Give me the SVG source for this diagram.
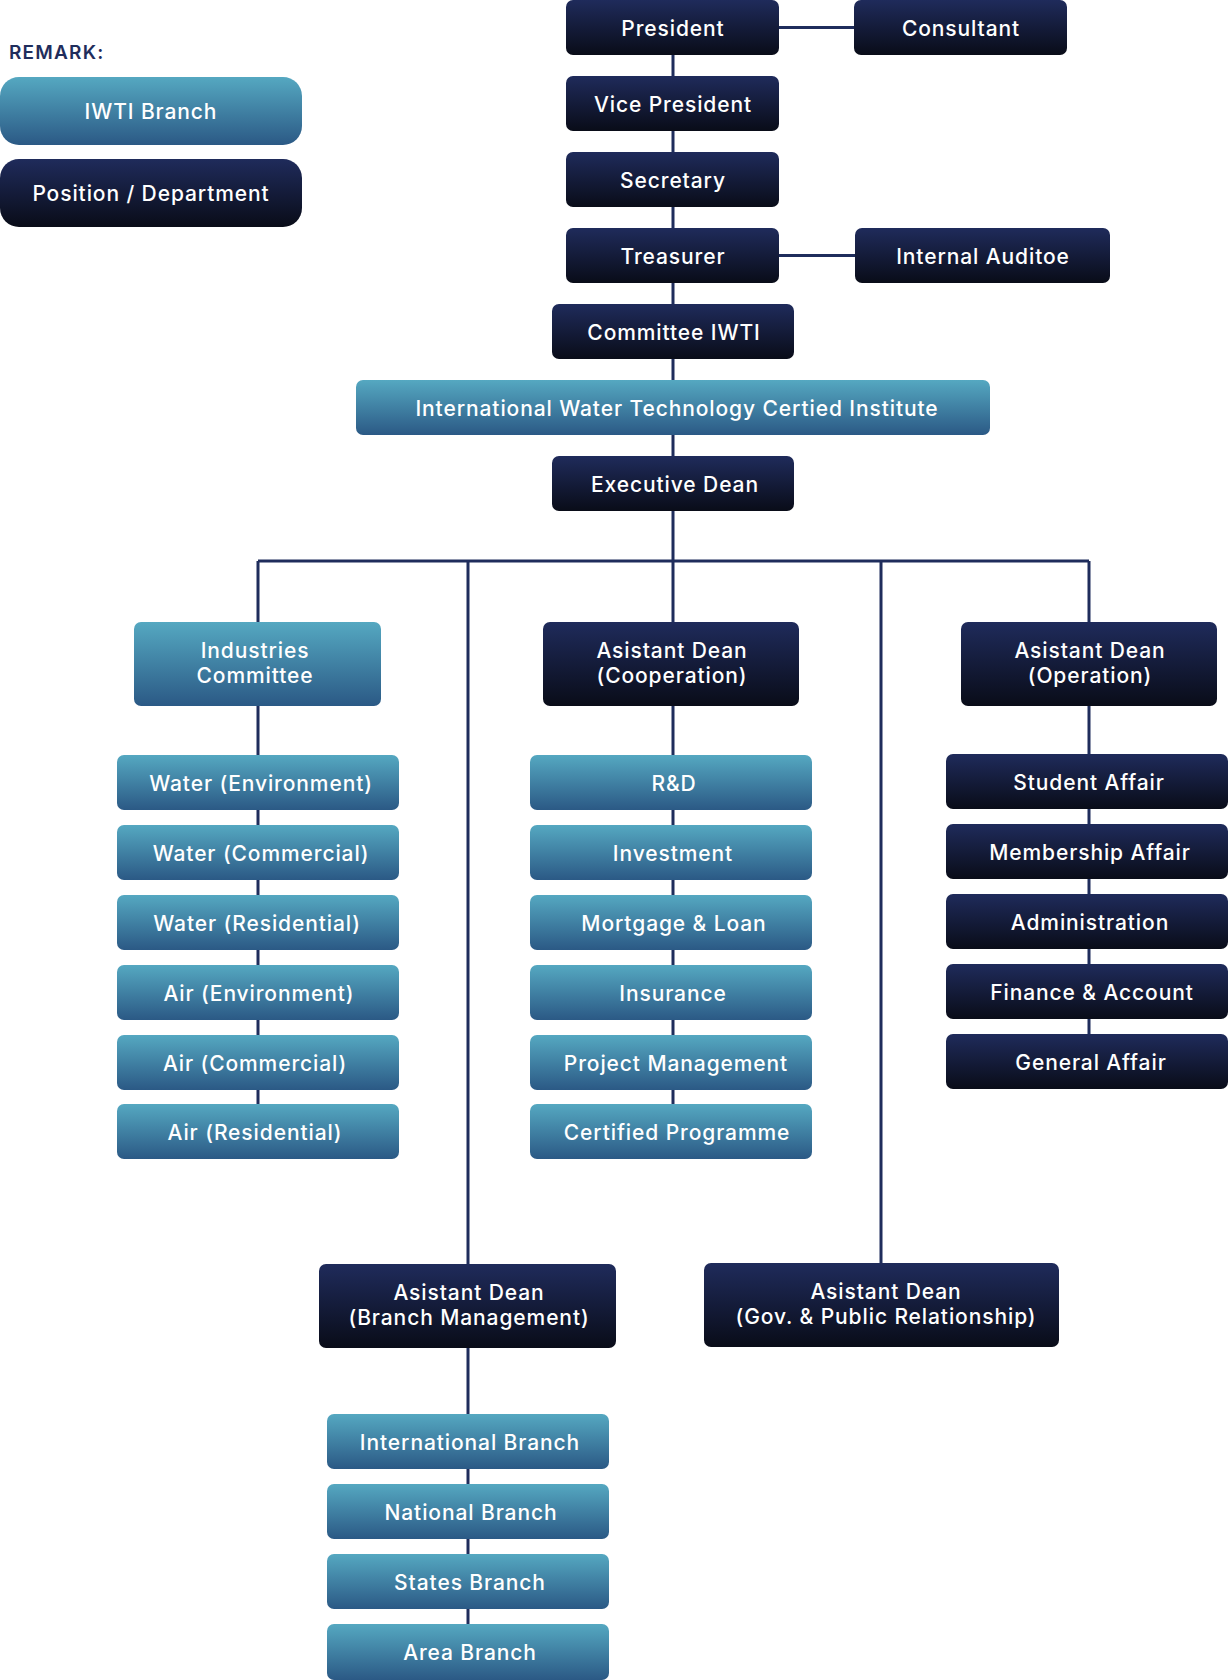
<svg xmlns="http://www.w3.org/2000/svg" width="1230" height="1680" viewBox="0 0 1230 1680">
<defs>
<linearGradient id="gDark" x1="0" y1="0" x2="0" y2="1">
<stop offset="0" stop-color="#1f2b5b"/>
<stop offset="1" stop-color="#090c18"/>
</linearGradient>
<linearGradient id="gTeal" x1="0" y1="0" x2="0" y2="1">
<stop offset="0" stop-color="#55a8c1"/>
<stop offset="1" stop-color="#2b5985"/>
</linearGradient>
<style>
.dk{fill:url(#gDark)}
.tl{fill:url(#gTeal)}
.t{font-family:Inter,"Open Sans","Liberation Sans",sans-serif;font-size:21px;font-weight:500;letter-spacing:0.9px;fill:#ffffff;text-anchor:middle}
.ln{stroke:#1f2d5c;stroke-width:3;fill:none}
.rm{font-family:Inter,"Open Sans","Liberation Sans",sans-serif;font-size:19px;font-weight:600;letter-spacing:1.2px;fill:#1f2d5c}
</style>
</defs>
<rect width="1230" height="1680" fill="#ffffff"/>
<g id="connectors">
<path class="ln" d="M673 55V561"/>
<path class="ln" d="M779 27.5H854"/>
<path class="ln" d="M779 255.5H855"/>
<path class="ln" d="M258 561H1089"/>
<path class="ln" d="M258 561V1131"/>
<path class="ln" d="M468 561V1650"/>
<path class="ln" d="M673 561V1131"/>
<path class="ln" d="M881 561V1263"/>
<path class="ln" d="M1089 561V1061"/>
</g>
<g id="legend">
<text class="rm" x="9" y="59">REMARK:</text>
<g id="legend-branch"><rect class="tl" x="0" y="77" width="302" height="68" rx="19"/><text class="t" x="151" y="119">IWTI Branch</text></g>
<g id="legend-position"><rect class="dk" x="0" y="159" width="302" height="68" rx="19"/><text class="t" x="151" y="201">Position / Department</text></g>
</g>
<g id="president"><rect class="dk" x="566" y="0" width="213" height="55" rx="7"/><text class="t" x="673" y="36">President</text></g>
<g id="consultant"><rect class="dk" x="854" y="0" width="213" height="55" rx="7"/><text class="t" x="961" y="36">Consultant</text></g>
<g id="vice-president"><rect class="dk" x="566" y="76" width="213" height="55" rx="7"/><text class="t" x="673" y="112">Vice President</text></g>
<g id="secretary"><rect class="dk" x="566" y="152" width="213" height="55" rx="7"/><text class="t" x="673" y="188">Secretary</text></g>
<g id="treasurer"><rect class="dk" x="566" y="228" width="213" height="55" rx="7"/><text class="t" x="673" y="264">Treasurer</text></g>
<g id="internal-auditoe"><rect class="dk" x="855" y="228" width="255" height="55" rx="7"/><text class="t" x="983" y="264">Internal Auditoe</text></g>
<g id="committee-iwti"><rect class="dk" x="552" y="304" width="242" height="55" rx="7"/><text class="t" x="674" y="340">Committee IWTI</text></g>
<g id="iwtci"><rect class="tl" x="356" y="380" width="634" height="55" rx="7"/><text class="t" x="677" y="416">International Water Technology Certied Institute</text></g>
<g id="executive-dean"><rect class="dk" x="552" y="456" width="242" height="55" rx="7"/><text class="t" x="675" y="492">Executive Dean</text></g>

<g id="industries-committee"><rect class="tl" x="134" y="622" width="247" height="84" rx="7"/><text class="t" x="255" y="658">Industries</text><text class="t" x="255" y="683">Committee</text></g>
<g id="ad-cooperation"><rect class="dk" x="543" y="622" width="256" height="84" rx="7"/><text class="t" x="672" y="658">Asistant Dean</text><text class="t" x="672" y="683">(Cooperation)</text></g>
<g id="ad-operation"><rect class="dk" x="961" y="622" width="256" height="84" rx="7"/><text class="t" x="1090" y="658">Asistant Dean</text><text class="t" x="1090" y="683">(Operation)</text></g>

<g id="water-env"><rect class="tl" x="117" y="755" width="282" height="55" rx="7"/><text class="t" x="261" y="791">Water (Environment)</text></g>
<g id="water-com"><rect class="tl" x="117" y="825" width="282" height="55" rx="7"/><text class="t" x="261" y="861">Water (Commercial)</text></g>
<g id="water-res"><rect class="tl" x="117" y="895" width="282" height="55" rx="7"/><text class="t" x="257" y="931">Water (Residential)</text></g>
<g id="air-env"><rect class="tl" x="117" y="965" width="282" height="55" rx="7"/><text class="t" x="259" y="1001">Air (Environment)</text></g>
<g id="air-com"><rect class="tl" x="117" y="1035" width="282" height="55" rx="7"/><text class="t" x="255" y="1071">Air (Commercial)</text></g>
<g id="air-res"><rect class="tl" x="117" y="1104" width="282" height="55" rx="7"/><text class="t" x="255" y="1140">Air (Residential)</text></g>

<g id="rnd"><rect class="tl" x="530" y="755" width="282" height="55" rx="7"/><text class="t" x="674" y="791">R&amp;D</text></g>
<g id="investment"><rect class="tl" x="530" y="825" width="282" height="55" rx="7"/><text class="t" x="673" y="861">Investment</text></g>
<g id="mortgage"><rect class="tl" x="530" y="895" width="282" height="55" rx="7"/><text class="t" x="674" y="931">Mortgage &amp; Loan</text></g>
<g id="insurance"><rect class="tl" x="530" y="965" width="282" height="55" rx="7"/><text class="t" x="673" y="1001">Insurance</text></g>
<g id="project-mgmt"><rect class="tl" x="530" y="1035" width="282" height="55" rx="7"/><text class="t" x="676" y="1071">Project Management</text></g>
<g id="certified"><rect class="tl" x="530" y="1104" width="282" height="55" rx="7"/><text class="t" x="677" y="1140">Certified Programme</text></g>

<g id="student-affair"><rect class="dk" x="946" y="754" width="282" height="55" rx="7"/><text class="t" x="1089" y="790">Student Affair</text></g>
<g id="membership-affair"><rect class="dk" x="946" y="824" width="282" height="55" rx="7"/><text class="t" x="1090" y="860">Membership Affair</text></g>
<g id="administration"><rect class="dk" x="946" y="894" width="282" height="55" rx="7"/><text class="t" x="1090" y="930">Administration</text></g>
<g id="finance"><rect class="dk" x="946" y="964" width="282" height="55" rx="7"/><text class="t" x="1092" y="1000">Finance &amp; Account</text></g>
<g id="general-affair"><rect class="dk" x="946" y="1034" width="282" height="55" rx="7"/><text class="t" x="1091" y="1070">General Affair</text></g>

<g id="ad-branch"><rect class="dk" x="319" y="1264" width="297" height="84" rx="7"/><text class="t" x="469" y="1300">Asistant Dean</text><text class="t" x="469" y="1325">(Branch Management)</text></g>
<g id="ad-gov"><rect class="dk" x="704" y="1263" width="355" height="84" rx="7"/><text class="t" x="886" y="1299">Asistant Dean</text><text class="t" x="886" y="1324">(Gov. &amp; Public Relationship)</text></g>

<g id="intl-branch"><rect class="tl" x="327" y="1414" width="282" height="55" rx="7"/><text class="t" x="470" y="1450">International Branch</text></g>
<g id="national-branch"><rect class="tl" x="327" y="1484" width="282" height="55" rx="7"/><text class="t" x="471" y="1520">National Branch</text></g>
<g id="states-branch"><rect class="tl" x="327" y="1554" width="282" height="55" rx="7"/><text class="t" x="470" y="1590">States Branch</text></g>
<g id="area-branch"><rect class="tl" x="327" y="1624" width="282" height="56" rx="7"/><text class="t" x="470" y="1660">Area Branch</text></g>
</svg>
